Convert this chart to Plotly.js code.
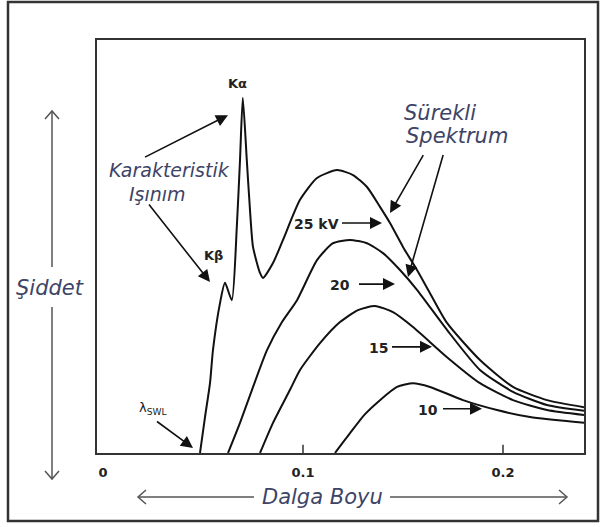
<!DOCTYPE html>
<html>
<head>
<meta charset="utf-8">
<script src="https://cdn.plot.ly/plotly-3.0.1.min.js"></script>
<style>html,body{margin:0;padding:0;background:#fff;}#chart{width:601px;height:527px;}</style>
</head>
<body>
<div id="chart"></div>
<script>
// wavelength (nm) and relative intensity
const wl25 = [0.0485,0.051,0.0535,0.055,0.0585,0.061,0.0644,0.0669,0.0685,0.0699,0.0719,0.0735,0.075,0.0785,0.080,0.085,0.090,0.0985,0.107,0.117,0.125,0.132,0.1385,0.1435,0.150,0.157,0.1635,0.172,0.1885,0.205,0.222,0.2405];
const i25  = [0,8.7,16.9,25.0,36.3,41.2,37.0,54.7,70.9,86.0,70.9,58.8,49.9,43.6,42.4,46.0,51.6,61.3,66.6,68.5,67.3,64.4,59.6,55.7,49.9,44.3,38.7,31.5,22.5,16.0,12.8,11.1];
const wl20 = [0.0625,0.0685,0.0745,0.082,0.0895,0.097,0.107,0.115,0.1235,0.132,0.140,0.1485,0.157,0.172,0.1885,0.205,0.222,0.2405];
const i20  = [0,7.3,15.3,24.9,31.7,37.0,46.7,50.8,51.6,50.8,48.4,44.3,39.5,29.8,20.1,14.8,11.6,10.2];
const wl15 = [0.0785,0.085,0.0935,0.0985,0.1085,0.1185,0.1275,0.136,0.145,0.155,0.172,0.1885,0.205,0.222,0.2405];
const i15  = [0,7.3,15.3,20.1,26.6,31.7,34.6,35.6,34.1,30.5,23.2,16.9,12.8,10.4,9.2];
const wl10 = [0.116,0.1235,0.131,0.1385,0.147,0.155,0.1635,0.18,0.197,0.2135,0.2405];
const i10  = [0,4.8,9.4,12.8,16.0,16.9,16.0,12.8,10.4,8.7,7.3];

const xTickVals = [0, 0.1, 0.2];
const xTickText = ['0', '0.1', '0.2'];
const xLabel = 'Dalga Boyu';
const yLabel = 'Şiddet';

// layout helpers: pixel -> paper
const L = 97, R = 584, T = 40, B = 453;
const px = v => (v - L) / (R - L);
const py = v => (B - v) / (B - T);

const lineStyle = {color: '#111', width: 2, shape: 'spline', smoothing: 0.6};
const traces = [
  {x: wl25, y: i25, name: '25 kV'},
  {x: wl20, y: i20, name: '20 kV'},
  {x: wl15, y: i15, name: '15 kV'},
  {x: wl10, y: i10, name: '10 kV'}
].map(t => Object.assign(t, {type: 'scatter', mode: 'lines', line: lineStyle, hoverinfo: 'skip'}));

const italicFont = {family: 'DejaVu Sans', size: 21, color: '#3d4466'};
const italicSmall = {family: 'DejaVu Sans', size: 19, color: '#3d4466'};
const boldFont = {family: 'DejaVu Sans', size: 14, color: '#222', weight: 'bold'};
const kFont = {family: 'DejaVu Sans', size: 13, color: '#222', weight: 'bold'};

function txt(x, y, text, font, extra) {
  return Object.assign({xref: 'paper', yref: 'paper', x: px(x), y: py(y), text: text, showarrow: false,
    xanchor: 'center', yanchor: 'middle', font: font}, extra || {});
}
function arr(x, y, ax, ay) {
  return {xref: 'x', yref: 'y', x: x, y: y, ax: ax, ay: ay, text: ' ', font: {size: 2},
    showarrow: true, arrowhead: 2, arrowsize: 1.5, arrowwidth: 1.6, arrowcolor: '#111', standoff: 0, startstandoff: 0};
}

const annotations = [
  txt(169, 170, '<i>Karakteristik</i>', italicSmall),
  txt(157, 194, '<i>Işınım</i>', italicSmall),
  txt(440, 113, '<i>Sürekli</i>', italicFont),
  txt(457, 136, '<i>Spektrum</i>', italicFont),
  txt(50, 288, '<i>' + yLabel + '</i>', italicFont),
  txt(322, 497, '<i>' + xLabel + '</i>', italicFont),
  txt(237, 83, 'Kα', kFont),
  txt(213, 255, 'Kβ', kFont),
  txt(153, 408, 'λ<sub>SWL</sub>', {family: 'DejaVu Sans', size: 13, color: '#222'}),
  txt(316, 224, '25 kV', boldFont),
  txt(340, 285, '20', boldFont),
  txt(378, 348, '15', boldFont),
  txt(428, 410, '10', boldFont),
  arr(0.0625, 81.8, -85, 43),
  arr(0.0535, 41.4, -63, -80),
  arr(0.1435, 58.1, 35, -61),
  arr(0.1525, 42.6, 36, -125),
  arr(0.1395, 55.7, -42, 0),
  arr(0.146, 40.9, -38, 0),
  arr(0.1645, 25.7, -42, 0),
  arr(0.1895, 10.7, -41, 0),
  arr(0.045, 1.2, -38, -28)
];

const grey = {color: '#555', width: 1.5};
function seg(x0, y0, x1, y1, line) {
  return {type: 'line', xref: 'paper', yref: 'paper', x0: px(x0), y0: py(y0), x1: px(x1), y1: py(y1), line: line};
}
function chev(pts, line) {
  return {type: 'path', xref: 'paper', yref: 'paper',
    path: 'M' + pts.map(p => px(p[0]) + ',' + py(p[1])).join(' L'), line: line};
}
const shapes = [
  // outer frame
  {type: 'rect', xref: 'paper', yref: 'paper', x0: px(8), y0: py(2), x1: px(598), y1: py(521), line: {color: '#333', width: 2.5}},
  // x tick marks (inside)
  ...xTickVals.slice(1).map(v => ({type: 'line', xref: 'x', yref: 'paper', x0: v, x1: v, y0: 0, y1: 0.02, line: {color: '#333', width: 1.5}})),
  // vertical intensity arrow
  seg(52, 111, 52, 267, grey), seg(52, 307, 52, 479, grey),
  chev([[45, 119], [52, 111], [59, 119]], grey),
  chev([[45, 471], [52, 479], [59, 471]], grey),
  // horizontal wavelength arrow
  seg(138, 497, 254, 497, grey), seg(390, 497, 567, 497, grey),
  chev([[146, 490], [138, 497], [146, 504]], grey),
  chev([[559, 490], [567, 497], [559, 504]], grey)
];

const layout = {
  width: 601, height: 527,
  margin: {l: L, r: 601 - R, t: T, b: 527 - B, pad: 0},
  paper_bgcolor: '#fff', plot_bgcolor: '#fff',
  showlegend: false,
  xaxis: {range: [-0.003, 0.2405], showgrid: false, zeroline: false, showline: true, mirror: true,
    linecolor: '#333', linewidth: 2, ticks: '', tickvals: xTickVals, ticktext: xTickText,
    ticklabelstandoff: 6,
    tickfont: {family: 'DejaVu Sans', size: 13, color: '#222', weight: 'bold'}, fixedrange: true},
  yaxis: {range: [0, 100], showgrid: false, zeroline: false, showline: true, mirror: true,
    linecolor: '#333', linewidth: 2, ticks: '', showticklabels: false, fixedrange: true},
  annotations: annotations,
  shapes: shapes
};

Plotly.newPlot('chart', traces, layout, {displayModeBar: false, staticPlot: true});
</script>
</body>
</html>
